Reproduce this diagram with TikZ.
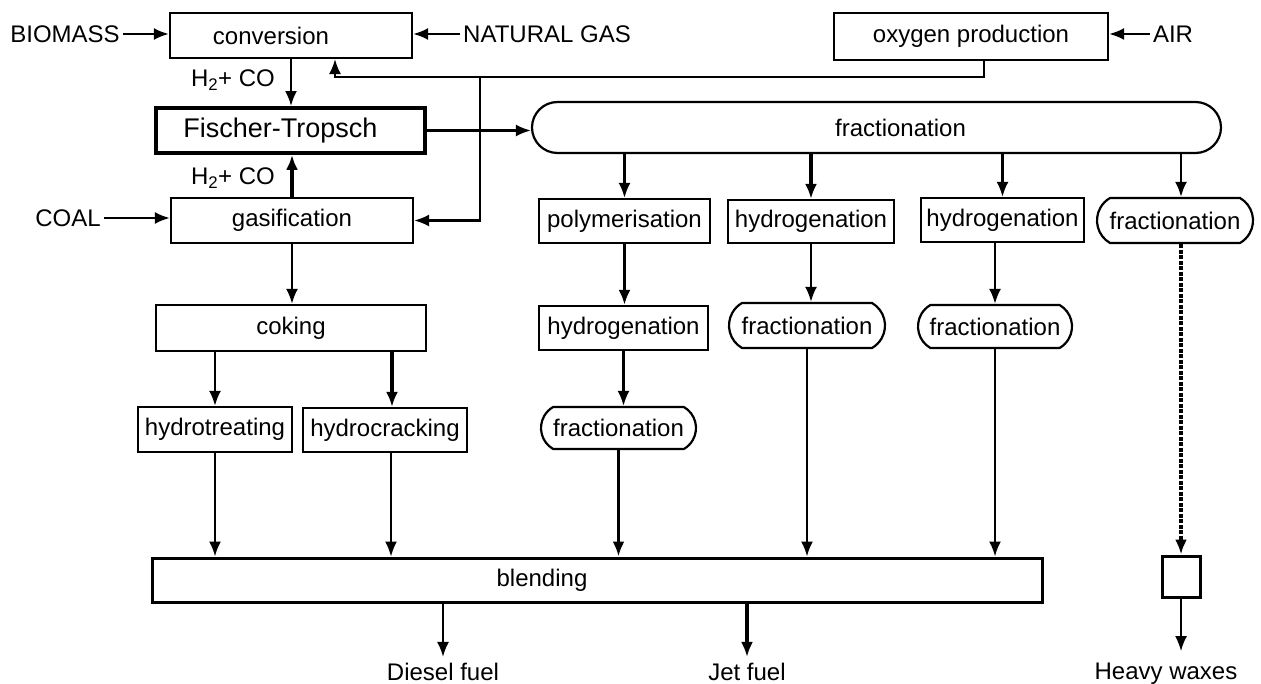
\documentclass[tikz,border=0pt]{standalone}
\usepackage{fontspec}
\setmainfont{Liberation Sans}
\usetikzlibrary{arrows.meta,shapes.misc,calc}

\newcommand{\normalfs}{\fontsize{24}{28}\selectfont}
\newcommand{\bigfs}{\fontsize{27}{32}\selectfont}

\tikzset{
    procbox/.style = {draw, rectangle, line width=2.2, inner sep=0},
    fracbox/.style = {procbox, rounded rectangle, rounded rectangle arc length=120},
    feed/.style = {inner sep=3},
    flow/.style = {-{Latex[length=15,width=12]}, line width=2.3},
    heavyflow/.style = {flow, line width=3.2},
    waxline/.style = {-{Latex[length=15,width=12]}, line width=4, dash pattern=on 4pt off 1.5pt},
    every label/.style = {inner sep=0}
}

\begin{document}
\begin{tikzpicture}[x=1pt, y=-1pt, font=\normalfs]
\useasboundingbox (0,0) rectangle (1261,684);

% feed streams
\node[feed] (biomass) at (65,34) {BIOMASS};
\node[feed] (natgas) at (547,34) {NATURAL GAS};
\node[feed] (air) at (1173,34) {AIR};
\node[feed] (coal) at (68,218) {COAL};
\node[feed] (syngas1) at (233,80) {H\textsubscript{2}+ CO};
\node[feed] (syngas2) at (233,178) {H\textsubscript{2}+ CO};

% left column
\node[procbox, minimum width=242, minimum height=45, label={[xshift=-20]center:conversion}] (conv) at (291,35.5) {};
\node[procbox, minimum width=274, minimum height=47] (oxy) at (971,36.5) {oxygen production};
\node[procbox, line width=3.8, minimum width=269, minimum height=45, label={[xshift=-10,font=\bigfs]center:Fischer-Tropsch}] (ft) at (290.5,130.5) {};
\node[procbox, minimum width=242, minimum height=45] (gas) at (292,220.5) {gasification};
\node[procbox, minimum width=270, minimum height=46] (coking) at (291,328) {coking};
\node[procbox, minimum width=154, minimum height=45] (hydrotreat) at (215,429.5) {hydrotreating};
\node[procbox, minimum width=164, minimum height=44] (hydrocrack) at (385,430) {hydrocracking};

% fractionation train
\node[fracbox, rounded rectangle arc length=180, minimum width=689, minimum height=51, label={[xshift=24]center:fractionation}] (bigfrac) at (876.5,127.5) {};
\node[procbox, minimum width=171, minimum height=44] (poly) at (624.5,221) {polymerisation};
\node[procbox, minimum width=166, minimum height=43] (hydA) at (811,221.5) {hydrogenation};
\node[procbox, minimum width=163, minimum height=44] (hydB) at (1002.5,220) {hydrogenation};
\node[fracbox, minimum width=156, minimum height=45] (fracD) at (1175,220.5) {fractionation};
\node[procbox, minimum width=169, minimum height=44] (hydC) at (623.5,328) {hydrogenation};
\node[fracbox, minimum width=156, minimum height=45] (fracA) at (807,325.5) {fractionation};
\node[fracbox, minimum width=154, minimum height=43] (fracB) at (995,326.5) {fractionation};
\node[fracbox, minimum width=155, minimum height=42] (fracC) at (618.5,428) {fractionation};

% blending and products
\node[procbox, line width=3, minimum width=890, minimum height=44, label={[xshift=-55]center:blending}] (blend) at (597,580) {};
\node[procbox, line width=3, minimum width=38, minimum height=41] (waxbox) at (1181,576.5) {};
\node[inner sep=0] (diesel) at (443,672) {Diesel fuel};
\node[inner sep=0] (jet) at (747,672) {Jet fuel};
\node[inner sep=0] (waxes) at (1166,674) {Heavy waxes};

% feeds into boxes
\draw[flow] (biomass.east) -- (biomass.east -| conv.west);
\draw[flow] (natgas.west) -- (natgas.west -| conv.east);
\draw[flow] (air.west) -- (air.west -| oxy.east);
\draw[flow] (coal.east) -- (coal.east -| gas.west);

% syngas
\draw[flow] (conv.south) -- (conv.south |- ft.north);
\draw[heavyflow] (gas.north) -- (gas.north |- ft.south);
\draw[flow] (ft.east) -- (ft.east -| bigfrac.west);

% oxygen return
\coordinate (split) at (480,77);
\draw[line width=2] ($(oxy.south)+(13,0)$) |- (split);
\draw[flow, line width=2] (split) -| ($(conv.south)+(44,0)$);
\draw[flow] (split) |- (gas.east);

% coal route
\draw[flow] (gas.south) -- (gas.south |- coking.north);
\draw[flow] (coking.south -| hydrotreat.north) -- (hydrotreat.north);
\draw[heavyflow] ($(coking.south)+(101,0)$) -- ($(hydrocrack.north)+(7,0)$);
\draw[flow] (hydrotreat.south) -- (hydrotreat.south |- blend.north);
\draw[flow, line width=1.7] ($(hydrocrack.south)+(6,0)$) -- ($(hydrocrack.south |- blend.north)+(6,0)$);

% fractionation cuts
\draw[flow] (bigfrac.south -| poly.north) -- (poly.north);
\draw[heavyflow] (bigfrac.south -| hydA.north) -- (hydA.north);
\draw[flow] (bigfrac.south -| hydB.north) -- (hydB.north);
\draw[flow] (bigfrac.south -| waxbox.north) -- (waxbox.north |- fracD.north);
\draw[heavyflow] (poly.south) -- (poly.south |- hydC.north);
\draw[flow] (hydC.south) -- (hydC.south |- fracC.north);
\draw[heavyflow] (fracC.south) -- (fracC.south |- blend.north);
\draw[flow] (hydA.south) -- (hydA.south |- fracA.north);
\draw[flow] (fracA.south) -- (fracA.south |- blend.north);
\draw[flow] (fracB.north |- hydB.south) -- (fracB.north);
\draw[flow] (fracB.south) -- (fracB.south |- blend.north);
\draw[waxline] (waxbox.north |- fracD.south) -- (waxbox.north);

% products
\draw[flow, shorten >=6] (diesel.north |- blend.south) -- (diesel.north);
\draw[heavyflow, shorten >=6] (jet.north |- blend.south) -- (jet.north);
\draw[flow, line width=1.7, shorten >=12] (waxbox.south) -- (waxbox.south |- waxes.north);

\end{tikzpicture}
\end{document}
